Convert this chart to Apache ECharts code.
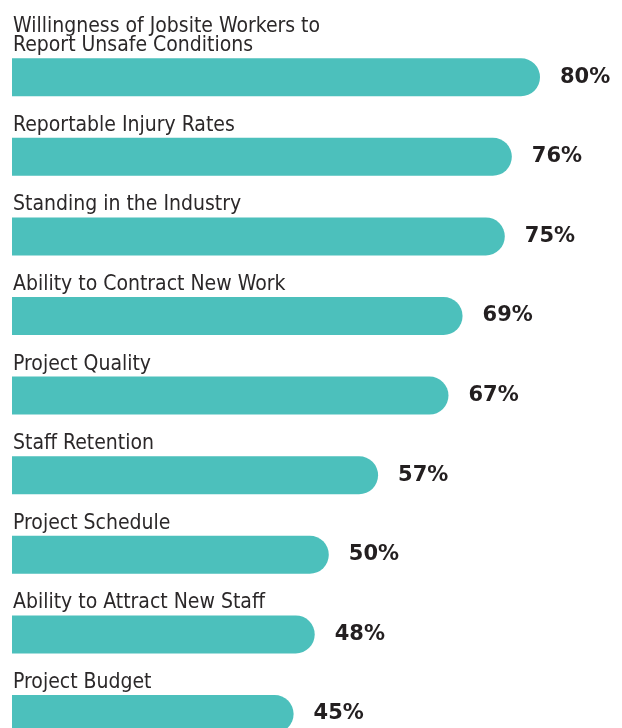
<!DOCTYPE html>
<html>
<head>
<meta charset="UTF-8">
<title>Safety impact</title>
<script src="https://cdn.jsdelivr.net/npm/echarts@6/dist/echarts.min.js"></script>
<style>
  html, body { margin: 0; padding: 0; background: #fff; }
</style>
</head>
<body>
	<div id="container" style="width:622px;height:728px;"></div>
	<script type="text/javascript">
	// categories, top to bottom
	var categories = [
		'Willingness of Jobsite Workers to\nReport Unsafe Conditions',
		'Reportable Injury Rates',
		'Standing in the Industry',
		'Ability to Contract New Work',
		'Project Quality',
		'Staff Retention',
		'Project Schedule',
		'Ability to Attract New Staff',
		'Project Budget'
	];
	// percent values
	var values = [80, 76, 75, 69, 67, 57, 50, 48, 45];

	var dom = document.getElementById("container");
	var myChart = echarts.init(dom);
	var option = {
		backgroundColor: '#ffffff',
		animation: false,
		grid: {
			left: 12,
			right: 82,
			top: 37.4,
			height: 716.4,
			outerBoundsMode: 'none'
		},
		xAxis: {
			type: 'value',
			min: 5,
			max: 80,
			show: false
		},
		yAxis: {
			type: 'category',
			data: categories,
			inverse: true,
			axisLine: { show: false },
			axisTick: { show: false },
			splitLine: { show: false },
			axisLabel: {
				inside: true,
				margin: 0,
				verticalAlign: 'bottom',
				padding: [0, 0, 22, 1],
				color: '#2b2829',
				fontFamily: '"Liberation Sans Narrow", "DejaVu Sans Condensed", sans-serif',
				fontSize: 21,
				lineHeight: 19
			}
		},
		series: [
			{
				type: 'bar',
				data: values,
				barWidth: 38,
				itemStyle: {
					color: '#4cc0bc',
					borderRadius: [0, 19, 19, 0]
				},
				label: {
					show: true,
					position: 'right',
					distance: 20,
					formatter: '{c}%',
					color: '#231f20',
					fontFamily: '"DejaVu Sans", sans-serif',
					fontWeight: 'bold',
					fontSize: 21
				}
			}
		]
	};
	myChart.setOption(option, true);
    </script>
</body>
</html>
